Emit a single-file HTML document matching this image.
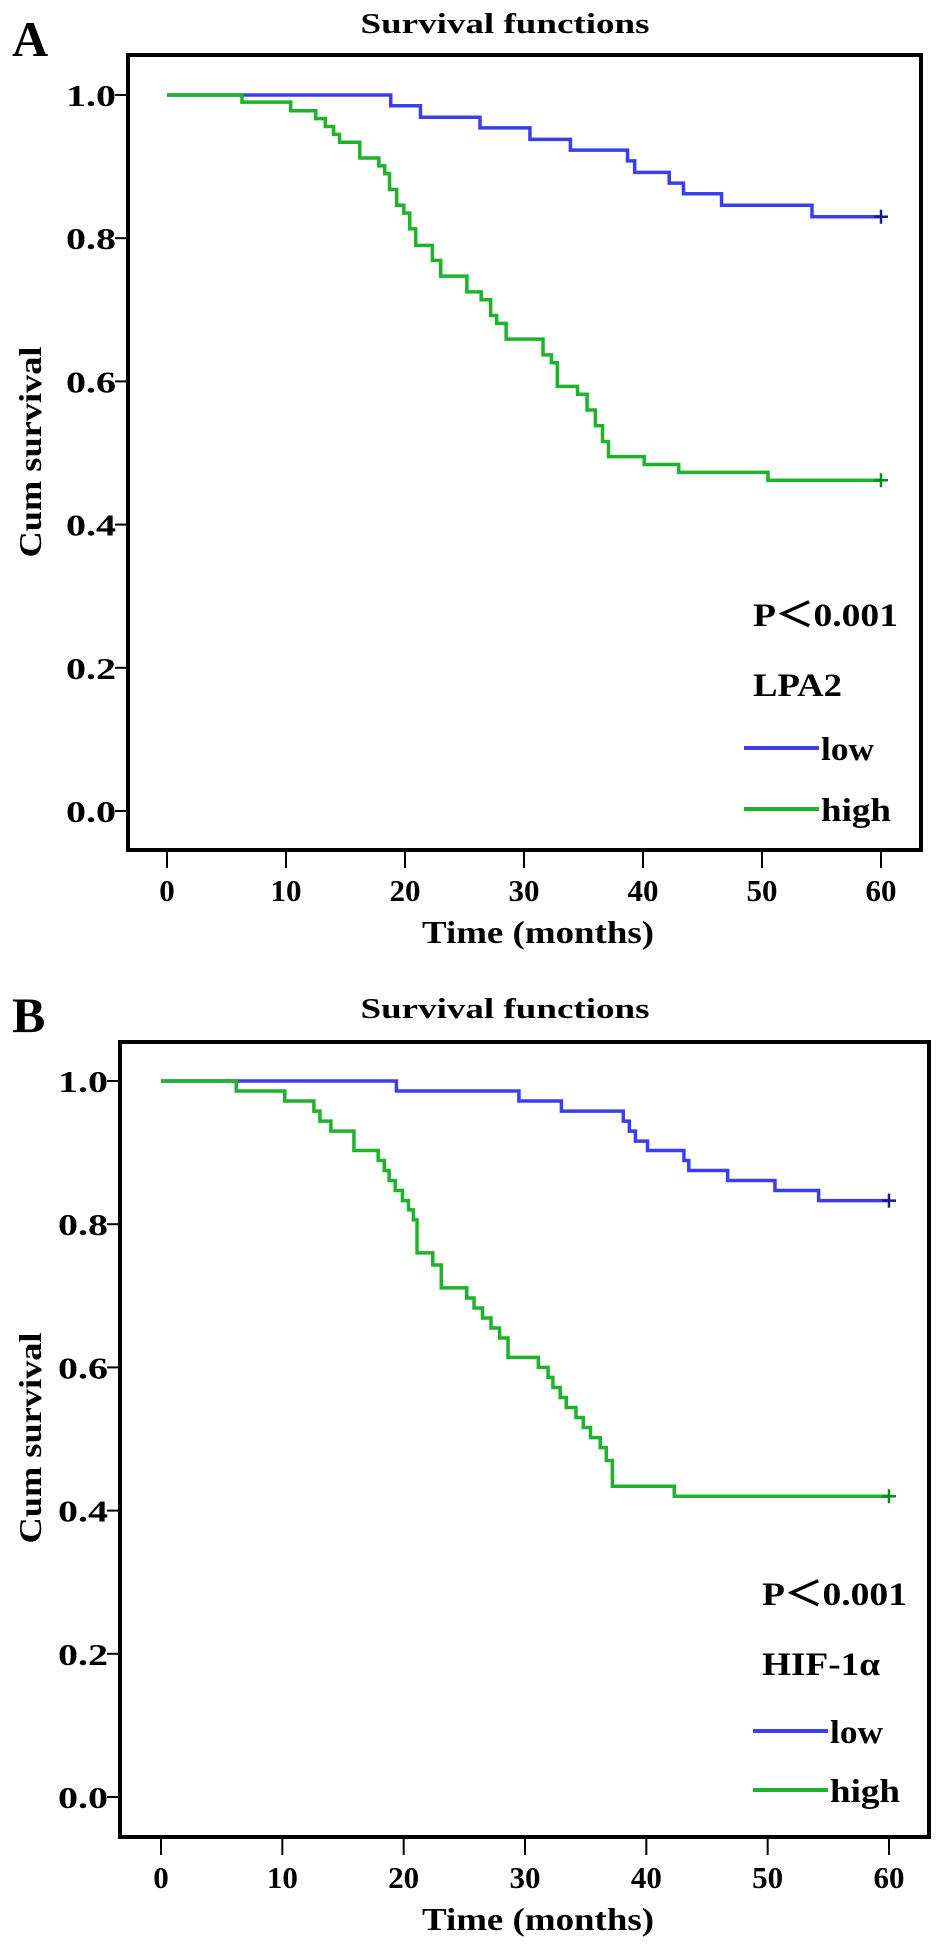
<!DOCTYPE html>
<html><head><meta charset="utf-8"><style>
html,body{margin:0;padding:0;background:#fff;}
svg{display:block;}
text{font-family:"Liberation Serif",serif;font-weight:bold;fill:#000;}
</style></head><body>
<svg id="fig" width="945" height="1955" viewBox="0 0 945 1955"></svg>
<script>
const xTicks = [0,10,20,30,40,50,60];
const yTicks = [0,0.2,0.4,0.6,0.8,1.0];
const yTickLabels = ["0.0","0.2","0.4","0.6","0.8","1.0"];
// Panel A (LPA2)
const aLowTimes = [0,18.8,21.3,26.3,30.5,33.9,38.7,39.3,42.2,43.4,46.6,54.2];
const aLowSurv  = [1,0.985,0.969,0.954,0.938,0.923,0.908,0.892,0.877,0.862,0.846,0.83];
const aHighTimes = [0,6.3,10.4,12.5,13.3,14.0,14.5,16.2,17.8,18.3,18.7,19.3,19.9,20.4,20.9,22.3,23.0,25.2,26.4,27.2,27.7,28.5,31.6,32.3,32.8,34.5,35.3,36.0,36.6,37.1,40.1,43.0,50.5];
const aHighSurv  = [1,0.99,0.978,0.967,0.956,0.945,0.934,0.912,0.901,0.89,0.868,0.846,0.835,0.813,0.79,0.769,0.747,0.725,0.714,0.692,0.681,0.659,0.637,0.626,0.593,0.582,0.56,0.538,0.516,0.495,0.484,0.473,0.462];
// Panel B (HIF-1α)
const bLowTimes = [0,19.4,29.5,33.0,38.1,38.6,39.1,40.1,43.1,43.5,46.7,50.6,54.2];
const bLowSurv  = [1,0.986,0.972,0.958,0.944,0.93,0.916,0.903,0.889,0.875,0.861,0.847,0.833];
const bHighTimes = [0,6.2,10.2,12.6,13.1,14.0,15.9,17.9,18.4,18.8,19.3,19.9,20.4,20.8,21.1,22.4,23.1,25.2,25.8,26.5,27.2,27.9,28.6,31.1,31.9,32.3,32.9,33.4,34.2,34.8,35.4,36.2,36.7,37.2,42.3];
const bHighSurv  = [1,0.986,0.972,0.958,0.944,0.93,0.903,0.889,0.875,0.861,0.847,0.833,0.82,0.806,0.76,0.743,0.711,0.697,0.683,0.669,0.655,0.641,0.614,0.6,0.586,0.572,0.558,0.544,0.53,0.516,0.502,0.488,0.47,0.434,0.42];

const NS="http://www.w3.org/2000/svg";
const svg=document.getElementById('fig');
function mk(tag,attrs,parent){const e=document.createElementNS(NS,tag);for(const k in attrs)e.setAttribute(k,attrs[k]);(parent||svg).appendChild(e);return e;}
function txt(s,attrs,parent){const e=mk('text',attrs,parent);e.textContent=s;return e;}

function panel(cfg){
  const g=mk('g',{});
  
  
  const xs=t=>cfg.x0+(cfg.x60-cfg.x0)*t/60;
  const ys=v=>cfg.y0+(cfg.y1-cfg.y0)*v;
  const L=txt(cfg.letter,{x:12,y:cfg.letterY,'font-size':50},g);
  
  
  const T=txt('Survival functions',{x:505,y:cfg.titleY,'font-size':28,'text-anchor':'middle',textLength:289,lengthAdjust:'spacingAndGlyphs'},g);
  
  
  const F=mk('rect',{x:cfg.fl,y:cfg.ft,width:cfg.fr-cfg.fl,height:cfg.fb-cfg.ft,fill:'none',stroke:'#000','stroke-width':4},g);
  
  
  yTicks.forEach((v,i)=>{
    const y=ys(v);
    const tk=mk('line',{x1:cfg.fl-13,x2:cfg.fl,y1:y,y2:y,stroke:'#000','stroke-width':2},g);
    
    
    const lb=txt(yTickLabels[i],{x:cfg.fl-12,y:y+11,'font-size':31,'text-anchor':'end',textLength:50,lengthAdjust:'spacingAndGlyphs'},g);
    
    
  });
  xTicks.forEach(t=>{
    const x=xs(t);
    const tk=mk('line',{x1:x,x2:x,y1:cfg.fb,y2:cfg.fb+18,stroke:'#000','stroke-width':2},g);
    
    
    const lb=txt(String(t),{x:x,y:cfg.fb+51,'font-size':31,'text-anchor':'middle'},g);
    
    
  });
  const XT=txt('Time (months)',{x:538,y:cfg.fb+93,'font-size':32,'text-anchor':'middle',textLength:232,lengthAdjust:'spacingAndGlyphs'},g);
  
  
  const YT=txt('Cum survival',{x:0,y:0,'font-size':32,'text-anchor':'middle',textLength:211,lengthAdjust:'spacingAndGlyphs',transform:`translate(41,${cfg.ytY}) rotate(-90)`},g);
  
  
  function curve(times,surv,color,name){
    let d=`M${xs(times[0])},${ys(surv[0])}`;
    for(let i=1;i<times.length;i++){d+=` H${xs(times[i])} V${ys(surv[i])}`;}
    d+=` H${xs(60)}`;
    const p=mk('path',{d:d,fill:'none',stroke:color,'stroke-width':3.5},g);
    
    
    const ex=xs(60),ey=ys(surv[surv.length-1]);
    const c=mk('path',{d:`M${ex-7},${ey} H${ex+7} M${ex},${ey-7} V${ey+7}`,stroke:color==='#3c3cf0'?'#1a1a8a':'#0a8a1a','stroke-width':2.5},g);
    
    
  }
  curve(cfg.lowT,cfg.lowS,'#3c3cf0','low-survival-curve');
  curve(cfg.highT,cfg.highS,'#1db32a','high-survival-curve');
  const P=txt('P＜0.001',{x:cfg.lx,y:cfg.pY+12,'font-size':33,textLength:145,lengthAdjust:'spacingAndGlyphs'},g);
  
  
  const G=txt(cfg.gene,{x:cfg.lx,y:cfg.gY+12,'font-size':33,textLength:cfg.geneW,lengthAdjust:'spacingAndGlyphs'},g);
  
  
  const l1=mk('line',{x1:cfg.lx-9,x2:cfg.lx+66,y1:cfg.lowY,y2:cfg.lowY,stroke:'#3c3cf0','stroke-width':4},g);
  
  
  const t1=txt('low',{x:cfg.lx+68,y:cfg.lowY+12,'font-size':33,textLength:53,lengthAdjust:'spacingAndGlyphs'},g);
  
  
  const l2=mk('line',{x1:cfg.lx-9,x2:cfg.lx+66,y1:cfg.highY,y2:cfg.highY,stroke:'#1db32a','stroke-width':4},g);
  
  
  const t2=txt('high',{x:cfg.lx+68,y:cfg.highY+12,'font-size':33,textLength:70,lengthAdjust:'spacingAndGlyphs'},g);
  
  
}

panel({id:'a',letter:'A',letterY:56,titleY:33,fl:128,ft:55,fr:921,fb:850,x0:167,x60:881,y0:811,y1:95,ytY:452,
  lowT:aLowTimes,lowS:aLowSurv,highT:aHighTimes,highS:aHighSurv,
  gene:'LPA2',geneW:89,lx:753,pY:614,gY:684,lowY:748,highY:809});
panel({id:'b',letter:'B',letterY:1032,titleY:1018,fl:120,ft:1042,fr:929,fb:1837,x0:161,x60:889,y0:1797,y1:1081,ytY:1438,
  lowT:bLowTimes,lowS:bLowSurv,highT:bHighTimes,highS:bHighSurv,
  gene:'HIF-1α',geneW:118,lx:762,pY:1593,gY:1663,lowY:1731,highY:1790});
</script>
</body></html>
